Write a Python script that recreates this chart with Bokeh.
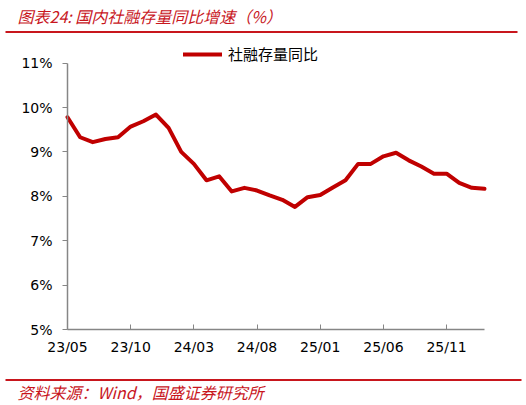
from bokeh.plotting import figure
from bokeh.models import (Legend, LegendItem, FixedTicker, ColumnDataSource, Range1d,
                          Label, BoxAnnotation)
from bokeh.embed import file_html
from bokeh.resources import INLINE

title_text = "图表24:  国内社融存量同比增速（%）"
source_text = "资料来源：Wind，国盛证券研究所"
series_name = "社融存量同比"

months = ["23/05", "23/06", "23/07", "23/08", "23/09", "23/10", "23/11", "23/12",
          "24/01", "24/02", "24/03", "24/04", "24/05", "24/06", "24/07", "24/08",
          "24/09", "24/10", "24/11", "24/12", "25/01", "25/02", "25/03", "25/04",
          "25/05", "25/06", "25/07", "25/08", "25/09", "25/10", "25/11", "25/12",
          "26/01", "26/02"]
values = [9.78, 9.33, 9.22, 9.29, 9.33, 9.57, 9.69, 9.84,
          9.54, 9.00, 8.73, 8.36, 8.45, 8.11, 8.19, 8.13,
          8.02, 7.92, 7.76, 7.98, 8.03, 8.20, 8.36, 8.73,
          8.73, 8.90, 8.98, 8.81, 8.67, 8.51, 8.51, 8.30,
          8.19, 8.17]
x_tick_labels = ["23/05", "23/10", "24/03", "24/08", "25/01", "25/06", "25/11"]
y_ticks = [5, 6, 7, 8, 9, 10, 11]
y_tick_labels = ["5%", "6%", "7%", "8%", "9%", "10%", "11%"]

idx = list(range(len(months)))
src = ColumnDataSource(dict(x=idx, y=values, m=months))
x_ticks = [months.index(t) for t in x_tick_labels]

RED = "#C8161D"
LINE = "#C00000"
AXIS = "#868686"

# canvas geometry (pixels inside the figure canvas)
W, H = 522, 402
PL, PR = 67.0, 484.0        # plot-area left / right
PT, PB = 62.6, 329.0        # plot-area top (11%) / bottom (5%)
n_last = len(months) - 1
ymin, ymax = y_ticks[0], y_ticks[-1]
sx = (PR - PL) / n_last
sy = (PB - PT) / (ymax - ymin)
x0 = -PL / sx
x1 = n_last + (W - PR) / sx
y1 = ymax + PT / sy
y0 = ymin - (H - PB) / sy


def ydata(canvas_y):
    return y1 - canvas_y / sy


def xdata(canvas_x):
    return x0 + canvas_x / sx


p = figure(output_backend="svg", toolbar_location=None, title=None, width=W, height=H,
           min_border=0, min_border_left=0, min_border_right=0,
           min_border_top=0, min_border_bottom=0,
           x_range=Range1d(x0, x1), y_range=Range1d(y0, y1))
p.outline_line_color = None
p.xgrid.visible = False
p.ygrid.visible = False

r = p.line("x", "y", source=src, line_color=LINE, line_width=4, line_join="round", line_cap="round")

xa = p.xaxis[0]
ya = p.yaxis[0]
xa.fixed_location = ymin
ya.fixed_location = 0
xa.bounds = (0, n_last)
ya.bounds = (ymin, ymax)
xa.ticker = FixedTicker(ticks=x_ticks)
xa.major_label_overrides = {i: l for i, l in zip(x_ticks, x_tick_labels)}
ya.ticker = FixedTicker(ticks=y_ticks)
ya.major_label_overrides = {v: l for v, l in zip(y_ticks, y_tick_labels)}

for ax in (xa, ya):
    ax.axis_line_color = AXIS
    ax.axis_line_width = 1.5
    ax.major_tick_line_color = AXIS
    ax.minor_tick_line_color = None
    ax.major_label_text_font = "DejaVu Sans"
    ax.major_label_text_font_size = "14px"
    ax.major_label_text_color = "#000000"

xa.major_tick_in = 5
xa.major_tick_out = 0
xa.major_label_standoff = 9
ya.major_tick_in = 0
ya.major_tick_out = 5
ya.major_label_standoff = 10

legend = Legend(items=[LegendItem(label=series_name, renderers=[r])],
                location=(183, H - 64), orientation="horizontal",
                border_line_color=None, background_fill_alpha=0,
                padding=0, margin=0, glyph_width=39, glyph_height=16,
                label_standoff=6, label_text_font="Noto Sans CJK SC",
                label_text_font_size="15px", label_text_color="#000000")
p.add_layout(legend, "center")

# header and footer decorations
p.add_layout(Label(x=17, y=H - 15, x_units="screen", y_units="screen", text=title_text,
                   text_color=RED, text_font="Noto Sans CJK SC", text_font_style="italic",
                   text_font_size="16px", text_baseline="middle"))
p.add_layout(BoxAnnotation(top=ydata(30.5), bottom=ydata(32.5), left=xdata(5), right=xdata(517),
                           fill_color=RED, fill_alpha=1, line_color=None))
p.add_layout(BoxAnnotation(top=ydata(378.5), bottom=ydata(380.5), left=xdata(5), right=xdata(521),
                           fill_color=RED, fill_alpha=1, line_color=None))
p.add_layout(Label(x=17, y=H - 391, x_units="screen", y_units="screen", text=source_text,
                   text_color=RED, text_font="Noto Sans CJK SC", text_font_style="italic",
                   text_font_size="16px", text_baseline="middle"))

open("out.html", "w").write(file_html(p, INLINE))
